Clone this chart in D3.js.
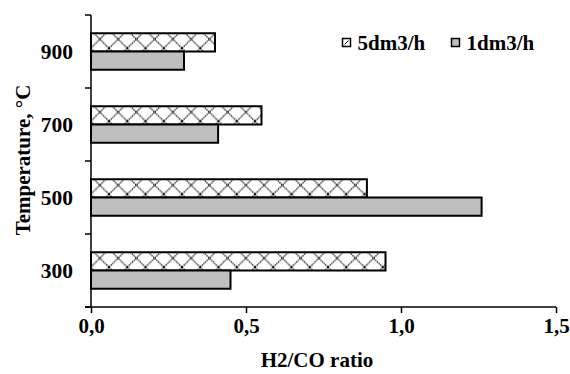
<!DOCTYPE html>
<html>
<head>
<meta charset="utf-8">
<script src="https://cdn.jsdelivr.net/npm/d3@7"></script>
<style>
  body { margin: 0; background: #fff; }
  text { font-family: "Liberation Serif", "Times New Roman", serif; font-weight: bold; fill: #000; }
</style>
</head>
<body>
<svg></svg>
<script>
const WIDTH = 570;
const HEIGHT = 374;

const temperatures = ['300', '500', '700', '900'];
const seriesNames = ['5dm3/h', '1dm3/h'];
const flow5 = [0.95, 0.89, 0.55, 0.40];
const flow1 = [0.45, 1.26, 0.41, 0.30];
const xTicks = [0, 0.5, 1.0, 1.5];

const MARGINS = { left: 91, top: 15, right: 14, bottom: 67 };
const graphWidth = WIDTH - MARGINS.left - MARGINS.right;
const graphHeight = HEIGHT - MARGINS.top - MARGINS.bottom;

const data = temperatures.map((t, i) => ({ t, values: [flow5[i], flow1[i]] }));

const svg = d3.select('svg').attr('width', WIDTH).attr('height', HEIGHT);

const x = d3.scaleLinear().domain([0, 1.5]).range([0, graphWidth]);
const y0 = d3.scaleBand().domain(temperatures).range([graphHeight, 0]);
const y1 = d3.scaleBand().domain(seriesNames).range([y0.step() * 0.25, y0.step() * 0.75]);

// hatch tile = bar height, so every hatched bar gets the same crossing
const s = y1.bandwidth();
const defs = svg.append('defs');
const pat = defs.append('pattern')
  .attr('id', 'hatch')
  .attr('patternUnits', 'userSpaceOnUse')
  .attr('x', MARGINS.left)
  .attr('y', MARGINS.top + y0('900') + y1('5dm3/h'))
  .attr('width', s)
  .attr('height', s);
pat.append('rect').attr('width', s).attr('height', s).attr('fill', '#fff');
pat.append('path')
  .attr('d', `M0,0L${s},${s}M${s},0L0,${s}`)
  .attr('stroke', '#000')
  .attr('stroke-width', 1.2)
  .attr('stroke-dasharray', '1.4,0.8');

const fills = { '5dm3/h': 'url(#hatch)', '1dm3/h': '#bfbfbf' };

const graph = svg.append('g')
  .attr('transform', `translate(${MARGINS.left}, ${MARGINS.top})`);

const groups = graph.selectAll('g.cat')
  .data(data)
  .enter()
  .append('g')
  .attr('class', 'cat')
  .attr('transform', (d) => `translate(0, ${y0(d.t)})`);

groups.selectAll('rect')
  .data((d) => d.values.map((v, i) => ({ name: seriesNames[i], v })))
  .enter()
  .append('rect')
  .attr('x', 0)
  .attr('y', (d) => y1(d.name))
  .attr('width', (d) => x(d.v))
  .attr('height', y1.bandwidth())
  .attr('fill', (d) => fills[d.name])
  .attr('stroke', '#000')
  .attr('stroke-width', 2);

// x axis
const xAxis = d3.axisBottom(x)
  .tickValues(xTicks)
  .tickSize(6)
  .tickFormat((d) => d3.format('.1f')(d).replace('.', ','));
const xAxisGroup = graph.append('g')
  .attr('transform', `translate(0, ${graphHeight})`)
  .call(xAxis);
xAxisGroup.select('.domain')
  .attr('d', `M-6,0H${graphWidth}`)
  .attr('stroke-width', 1.5);
xAxisGroup.selectAll('.tick line').attr('stroke-width', 1.5);
xAxisGroup.selectAll('.tick text')
  .attr('y', 0)
  .attr('dy', 26)
  .style('font-size', '21px')
  .style('font-family', '"Liberation Serif", serif');

// y axis: ticks on band edges
const yAxisGroup = graph.append('g');
yAxisGroup.append('path')
  .attr('d', `M0,0V${graphHeight}`)
  .attr('stroke', '#000')
  .attr('stroke-width', 1.5);
const edges = d3.range(temperatures.length + 1).map((i) => i * y0.step());
yAxisGroup.selectAll('line.edge')
  .data(edges)
  .enter()
  .append('line')
  .attr('x1', -6)
  .attr('x2', 0)
  .attr('y1', (d) => d)
  .attr('y2', (d) => d)
  .attr('stroke', '#000')
  .attr('stroke-width', 1.5);
yAxisGroup.selectAll('text.cat')
  .data(temperatures)
  .enter()
  .append('text')
  .attr('x', -18)
  .attr('y', (d) => y0(d) + y0.bandwidth() / 2 + 7.5)
  .attr('text-anchor', 'end')
  .style('font-size', '21.5px')
  .text((d) => d);

// axis titles
svg.append('text')
  .attr('x', 317)
  .attr('y', 367)
  .attr('text-anchor', 'middle')
  .style('font-size', '21px')
  .text('H2/CO ratio');

svg.append('text')
  .attr('transform', 'translate(29.5, 160) rotate(-90)')
  .attr('text-anchor', 'middle')
  .style('font-size', '21px')
  .text('Temperature, °C');

// legend
const legend = svg.append('g');
const legendX = [342.5, 451.5];
seriesNames.forEach((name, i) => {
  legend.append('rect')
    .attr('x', legendX[i])
    .attr('y', 38.5)
    .attr('width', 8)
    .attr('height', 8)
    .attr('fill', name === '5dm3/h' ? '#fff' : '#bfbfbf')
    .attr('stroke', '#000')
    .attr('stroke-width', 1.5);
  if (name === '5dm3/h') {
    legend.append('line')
      .attr('x1', legendX[i] + 2).attr('y1', 44.5)
      .attr('x2', legendX[i] + 6).attr('y2', 40.5)
      .attr('stroke', '#000').attr('stroke-width', 1);
  }
  legend.append('text')
    .attr('x', legendX[i] + 15)
    .attr('y', 50)
    .style('font-size', '21px')
    .text(name);
});
</script>
</body>
</html>
